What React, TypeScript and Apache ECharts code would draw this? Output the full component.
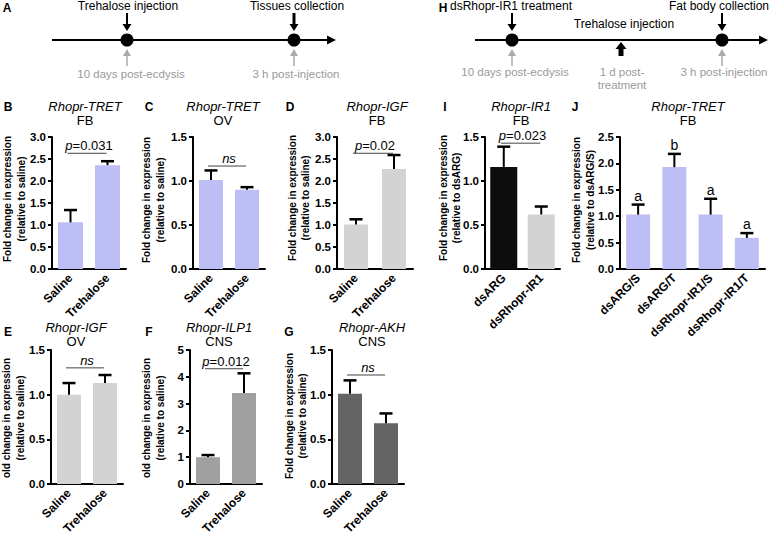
import React, { useEffect, useRef } from 'react';
import * as echarts from 'echarts';

const FONT = '"Liberation Sans", Arial, Helvetica, sans-serif';

const LAV = '#bebef6';
const LGRAY = '#d3d3d3';
const MGRAY = '#a0a0a0';
const DGRAY = '#646464';
const BLACK = '#0d0d0d';

// ---------- data ----------
const salineTrehalose = ['Saline', 'Trehalose'];

// B: Rhopr-TRET FB
const bMeans = [1.06, 2.36];
const bErrTop = [1.34, 2.45];
const bSig = 2.63;
const bSigLabel = '{i|p}=0.031';

// C: Rhopr-TRET OV
const cMeans = [1.01, 0.9];
const cErrTop = [1.12, 0.93];
const cSig = 1.17;
const cSigLabel = '{i|ns}';

// D: Rhopr-IGF FB
const dMeans = [1.01, 2.27];
const dErrTop = [1.13, 2.59];
const dSig = 2.63;
const dSigLabel = '{i|p}=0.02';

// I: Rhopr-IR1 FB
const iCats = ['dsARG', 'dsRhopr-IR1'];
const iMeans = [1.16, 0.62];
const iErrTop = [1.39, 0.71];
const iSig = 1.43;
const iSigLabel = '{i|p}=0.023';

// J: Rhopr-TRET FB
const jCats = ['dsARG/S', 'dsARG/T', 'dsRhopr-IR1/S', 'dsRhopr-IR1/T'];
const jMeans = [1.03, 1.93, 1.03, 0.59];
const jErrTop = [1.22, 2.18, 1.33, 0.68];
const jLetters = ['a', 'b', 'a', 'a'];

// E: Rhopr-IGF OV
const eMeans = [1.0, 1.13];
const eErrTop = [1.13, 1.22];
const eSig = 1.3;
const eSigLabel = '{i|ns}';

// F: Rhopr-ILP1 CNS
const fMeans = [1.0, 3.4];
const fErrTop = [1.08, 4.13];
const fSig = 4.3;
const fSigLabel = '{i|p}=0.012';

// G: Rhopr-AKH CNS
const gMeans = [1.01, 0.68];
const gErrTop = [1.16, 0.79];
const gSig = 1.22;
const gSigLabel = '{i|ns}';

type Panel = {
  letter: string; letterX: number; letterY: number;
  gene: string; tissue: string; titleX: number; titleY: number;
  yName: string; yNameX: number; yNameY: number;
  cats: string[]; means: number[]; errTop: number[]; colors: string[];
  max: number; interval: number; decimals: number;
  left: number; top: number; width: number; height: number; barWidth: number;
  sig?: number; sigLabel?: string; letters?: string[];
};

const TOPY = 137, TOPH = 132, BOTY = 350, BOTH = 134;

const panels: Panel[] = [
  { letter: 'B', letterX: 8, letterY: 107, gene: 'Rhopr-TRET', tissue: 'FB', titleX: 85, titleY: 106,
    yName: 'Fold change in expression\n(relative to saline)', yNameX: 14.5, yNameY: 199,
    cats: salineTrehalose, means: bMeans, errTop: bErrTop, colors: [LAV, LAV],
    max: 3, interval: 0.5, decimals: 1, left: 52, top: TOPY, width: 74, height: TOPH, barWidth: 25,
    sig: bSig, sigLabel: bSigLabel },
  { letter: 'C', letterX: 149, letterY: 107, gene: 'Rhopr-TRET', tissue: 'OV', titleX: 223, titleY: 106,
    yName: 'Fold change in expression\n(relative to saline)', yNameX: 153.5, yNameY: 200,
    cats: salineTrehalose, means: cMeans, errTop: cErrTop, colors: [LAV, LAV],
    max: 1.5, interval: 0.5, decimals: 1, left: 193, top: TOPY, width: 72, height: TOPH, barWidth: 24,
    sig: cSig, sigLabel: cSigLabel },
  { letter: 'D', letterX: 290, letterY: 107, gene: 'Rhopr-IGF', tissue: 'FB', titleX: 377, titleY: 106,
    yName: 'Fold change in expression\n(relative to saline)', yNameX: 299, yNameY: 198,
    cats: salineTrehalose, means: dMeans, errTop: dErrTop, colors: [LGRAY, LGRAY],
    max: 3, interval: 0.5, decimals: 1, left: 337, top: TOPY, width: 76, height: TOPH, barWidth: 24,
    sig: dSig, sigLabel: dSigLabel },
  { letter: 'I', letterX: 445, letterY: 107, gene: 'Rhopr-IR1', tissue: 'FB', titleX: 521, titleY: 106,
    yName: 'Fold change in expression\n(relative to dsARG)', yNameX: 450, yNameY: 198,
    cats: iCats, means: iMeans, errTop: iErrTop, colors: [BLACK, LGRAY],
    max: 1.5, interval: 0.5, decimals: 1, left: 485, top: TOPY, width: 75, height: TOPH, barWidth: 27,
    sig: iSig, sigLabel: iSigLabel },
  { letter: 'J', letterX: 575, letterY: 107, gene: 'Rhopr-TRET', tissue: 'FB', titleX: 688, titleY: 106,
    yName: 'Fold change in expression\n(relative to dsARG/S)', yNameX: 583.5, yNameY: 200,
    cats: jCats, means: jMeans, errTop: jErrTop, colors: [LAV, LAV, LAV, LAV],
    max: 2.5, interval: 0.5, decimals: 1, left: 620, top: TOPY, width: 145, height: TOPH, barWidth: 24,
    letters: jLetters },
  { letter: 'E', letterX: 8, letterY: 332, gene: 'Rhopr-IGF', tissue: 'OV', titleX: 76, titleY: 327,
    yName: 'old change in expression\n(relative to saline)', yNameX: 13.5, yNameY: 418,
    cats: salineTrehalose, means: eMeans, errTop: eErrTop, colors: [LGRAY, LGRAY],
    max: 1.5, interval: 0.5, decimals: 1, left: 51, top: BOTY, width: 72, height: BOTH, barWidth: 24,
    sig: eSig, sigLabel: eSigLabel },
  { letter: 'F', letterX: 149, letterY: 332, gene: 'Rhopr-ILP1', tissue: 'CNS', titleX: 219, titleY: 327,
    yName: 'old change in expression\n(relative to saline)', yNameX: 153.5, yNameY: 418,
    cats: salineTrehalose, means: fMeans, errTop: fErrTop, colors: [MGRAY, MGRAY],
    max: 5, interval: 1, decimals: 0, left: 190, top: BOTY, width: 72, height: BOTH, barWidth: 24,
    sig: fSig, sigLabel: fSigLabel },
  { letter: 'G', letterX: 289, letterY: 332, gene: 'Rhopr-AKH', tissue: 'CNS', titleX: 372, titleY: 327,
    yName: 'Fold change in expression\n(relative to saline)', yNameX: 296, yNameY: 416,
    cats: salineTrehalose, means: gMeans, errTop: gErrTop, colors: [DGRAY, DGRAY],
    max: 1.5, interval: 0.5, decimals: 1, left: 332, top: BOTY, width: 72, height: BOTH, barWidth: 24,
    sig: gSig, sigLabel: gSigLabel },
];

// ---------- timeline helpers ----------
const txt = (x: number, y: number, text: string, opts: any = {}) => ({
  type: 'text', x, y, silent: true,
  style: { text, fontFamily: FONT, fontSize: 12, fill: '#000', align: 'center', verticalAlign: 'middle', ...opts },
});
const downArrow = (x: number, y0: number, y1: number, w: number, color: string) => [
  { type: 'line', silent: true, shape: { x1: x, y1: y0, x2: x, y2: y1 - 5 }, style: { stroke: color, lineWidth: w } },
  { type: 'polygon', silent: true, shape: { points: [[x - 4.5, y1 - 7], [x + 4.5, y1 - 7], [x, y1]] }, style: { fill: color } },
];
const upArrow = (x: number, y0: number, y1: number, w: number, hw: number, hh: number, color: string) => [
  { type: 'line', silent: true, shape: { x1: x, y1: y0, x2: x, y2: y1 + hh - 2 }, style: { stroke: color, lineWidth: w } },
  { type: 'polygon', silent: true, shape: { points: [[x - hw, y1 + hh], [x + hw, y1 + hh], [x, y1]] }, style: { fill: color } },
];
const dot = (x: number, y: number) => ({ type: 'circle', silent: true, shape: { cx: x, cy: y, r: 6.5 }, style: { fill: '#000' } });
const axisArrow = (x0: number, x1: number, y: number) => [
  { type: 'line', silent: true, shape: { x1: x0, y1: y, x2: x1 - 6, y2: y }, style: { stroke: '#000', lineWidth: 2 } },
  { type: 'polygon', silent: true, shape: { points: [[x1 - 9, y - 4.5], [x1 - 9, y + 4.5], [x1, y]] }, style: { fill: '#000' } },
];
const GRAYTXT = '#9a9a9a';

export default function App() {
  const ref = useRef<HTMLDivElement>(null);
  useEffect(() => {
    if (!ref.current) return;
    const chart = echarts.init(ref.current, undefined, { renderer: 'svg' });

    const grid = panels.map((p) => ({ left: p.left, top: p.top, width: p.width, height: p.height, containLabel: false }));
    const xAxis = panels.map((p, i) => ({
      type: 'category', gridIndex: i, data: p.cats,
      axisLine: { lineStyle: { color: '#000', width: 2 } },
      axisTick: { alignWithLabel: true, length: 5, lineStyle: { color: '#000', width: 2 } },
      axisLabel: { rotate: 45, interval: 0, margin: 7, color: '#000', fontWeight: 'bold', fontSize: 12, fontFamily: FONT },
    }));
    const yAxis = panels.map((p, i) => ({
      type: 'value', gridIndex: i, min: 0, max: p.max, interval: p.interval,
      axisLine: { show: true, lineStyle: { color: '#000', width: 2 } },
      axisTick: { show: true, length: 4, lineStyle: { color: '#000', width: 2 } },
      splitLine: { show: false },
      axisLabel: {
        margin: 6, color: '#000', fontWeight: 'bold', fontSize: 11.5, fontFamily: FONT,
        formatter: (v: number) => v.toFixed(p.decimals),
      },
    }));

    const series: any[] = [];
    panels.forEach((p, i) => {
      series.push({
        type: 'bar', xAxisIndex: i, yAxisIndex: i, barWidth: p.barWidth, silent: true,
        data: p.means.map((m, j) => ({ value: m, itemStyle: { color: p.colors[j] } })),
      });
      series.push({
        type: 'custom', xAxisIndex: i, yAxisIndex: i, z: 5, silent: true,
        data: p.means.map((m, j) => [j, m, p.errTop[j]]),
        encode: { x: 0, y: [1, 2] },
        renderItem: (_params: any, api: any) => {
          const j = api.value(0);
          const a = api.coord([j, api.value(1)]);
          const b = api.coord([j, api.value(2)]);
          return {
            type: 'group', children: [
              { type: 'line', shape: { x1: a[0], y1: a[1], x2: b[0], y2: b[1] }, style: { stroke: '#000', lineWidth: 2 } },
              { type: 'line', shape: { x1: b[0] - 6.5, y1: b[1], x2: b[0] + 6.5, y2: b[1] }, style: { stroke: '#000', lineWidth: 2.5 } },
            ],
          };
        },
      });
      if (p.sig !== undefined) {
        const label = p.sigLabel as string;
        series.push({
          type: 'custom', xAxisIndex: i, yAxisIndex: i, z: 6, silent: true,
          data: [[0, 1, p.sig]],
          encode: { x: [0, 1], y: 2 },
          renderItem: (_params: any, api: any) => {
            const a = api.coord([api.value(0), api.value(2)]);
            const b = api.coord([api.value(1), api.value(2)]);
            return {
              type: 'group', children: [
                { type: 'line', shape: { x1: a[0] - 3, y1: a[1], x2: b[0] - 1, y2: b[1] }, style: { stroke: '#444', lineWidth: 1 } },
                {
                  type: 'text', x: (a[0] + b[0]) / 2, y: a[1] - 1,
                  style: {
                    text: label, align: 'center', verticalAlign: 'bottom', fontSize: 13, fontFamily: FONT, fill: '#000',
                    rich: { i: { fontStyle: 'italic', fontSize: 13, fontFamily: FONT, fill: '#000' } },
                  },
                },
              ],
            };
          },
        });
      }
      if (p.letters) {
        const letters = p.letters;
        series.push({
          type: 'custom', xAxisIndex: i, yAxisIndex: i, z: 6, silent: true,
          data: p.errTop.map((t, j) => [j, t]),
          encode: { x: 0, y: 1 },
          renderItem: (params: any, api: any) => {
            const c = api.coord([api.value(0), api.value(1)]);
            return {
              type: 'text', x: c[0], y: c[1] - 2,
              style: { text: letters[params.dataIndex], align: 'center', verticalAlign: 'bottom', fontSize: 14, fontFamily: FONT, fill: '#000' },
            };
          },
        });
      }
    });

    const elements: any[] = [];
    // Timeline A
    elements.push(txt(7, 8, 'A', { fontWeight: 'bold' }));
    elements.push(txt(128, 6, 'Trehalose injection'));
    elements.push(txt(297, 6, 'Tissues collection'));
    elements.push(...axisArrow(52, 336, 40));
    elements.push(...downArrow(127, 13, 31, 2, '#000'));
    elements.push(...downArrow(294, 13, 31, 3, '#000'));
    elements.push(dot(127, 40), dot(294, 40));
    elements.push(...upArrow(127, 66, 49, 1.5, 4, 7, '#aaa'));
    elements.push(...upArrow(294, 66, 49, 1.5, 4, 7, '#aaa'));
    elements.push(txt(131, 74, '10 days post-ecdysis', { fill: GRAYTXT, fontSize: 11.5 }));
    elements.push(txt(296, 74, '3 h post-injection', { fill: GRAYTXT, fontSize: 11.5 }));
    // Timeline H
    elements.push(txt(443, 8, 'H', { fontWeight: 'bold' }));
    elements.push(txt(511, 6, 'dsRhopr-IR1 treatment'));
    elements.push(txt(719, 6, 'Fat body collection'));
    elements.push(txt(624, 24, 'Trehalose injection'));
    elements.push(...axisArrow(475, 768, 40));
    elements.push(...downArrow(512, 13, 31, 2, '#000'));
    elements.push(...downArrow(722, 13, 31, 2, '#000'));
    elements.push(dot(512, 40), dot(722, 40));
    elements.push(...upArrow(621, 56, 42, 5, 5.5, 7, '#000'));
    elements.push(...upArrow(512, 66, 49, 1.5, 4, 7, '#aaa'));
    elements.push(...upArrow(722, 66, 49, 1.5, 4, 7, '#aaa'));
    elements.push(txt(515, 72, '10 days post-ecdysis', { fill: GRAYTXT, fontSize: 11.5 }));
    elements.push(txt(622, 72, '1 d post-', { fill: GRAYTXT, fontSize: 11.5 }));
    elements.push(txt(622, 85, 'treatment', { fill: GRAYTXT, fontSize: 11.5 }));
    elements.push(txt(724, 72, '3 h post-injection', { fill: GRAYTXT, fontSize: 11.5 }));

    panels.forEach((p) => {
      elements.push(txt(p.letterX, p.letterY, p.letter, { fontWeight: 'bold' }));
      elements.push(txt(p.titleX, p.titleY, p.gene, { fontStyle: 'italic', fontSize: 13 }));
      elements.push(txt(p.titleX, p.titleY + 14, p.tissue, { fontSize: 13 }));
      elements.push({
        type: 'text', x: p.yNameX, y: p.yNameY, rotation: Math.PI / 2, silent: true,
        style: { text: p.yName, fontFamily: FONT, fontSize: 10, fontWeight: 'bold', fill: '#000', align: 'center', verticalAlign: 'middle', lineHeight: 13.5 },
      });
    });

    chart.setOption({
      animation: false,
      backgroundColor: '#fff',
      grid, xAxis, yAxis, series,
      graphic: { elements },
    });
    return () => chart.dispose();
  }, []);
  return <div ref={ref} style={{ position: 'absolute', left: 0, top: 0, width: 770, height: 537 }} />;
}
